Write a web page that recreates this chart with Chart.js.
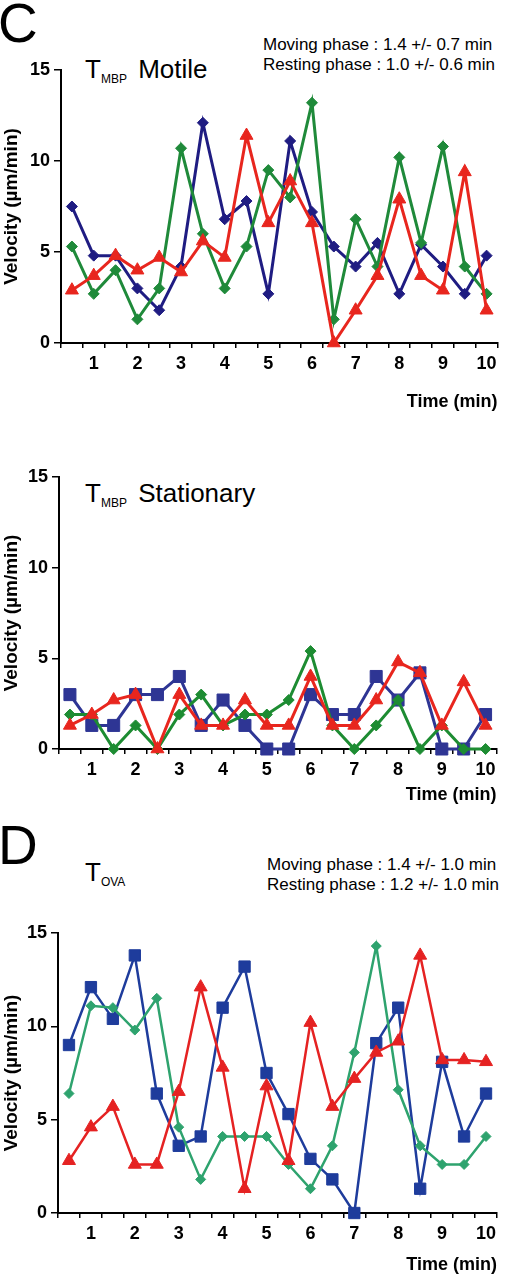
<!DOCTYPE html>
<html lang="en">
<head>
    <meta charset="UTF-8">
    <title>T cell velocity over time</title>
    <script src="https://cdn.jsdelivr.net/npm/chart.js"></script>
    <style>
        body {
            margin: 0;
            width: 506px;
            height: 1280px;
            overflow: hidden;
            background: white;
            font-family: "Liberation Sans", Arial, sans-serif;
            color: black;
            position: relative;
        }
        canvas { position: absolute; left: 0; }
        .panel { position: absolute; left: -2px; font-size: 55px; line-height: 55px; }
        .title { position: absolute; left: 85px; font-size: 26px; line-height: 26px; white-space: nowrap; }
        .title sub { font-size: 12px; vertical-align: -5px; margin-right: 4px; }
        .note { position: absolute; font-size: 17px; line-height: 20px; white-space: pre; }
    </style>
</head>
<body>
    <div class="panel" style="top:-4px">C</div>
    <div class="title" style="top:56px">T<sub>MBP</sub> Motile</div>
    <div class="note" style="left:263px; top:35px">Moving phase : 1.4 +/- 0.7 min
Resting phase : 1.0 +/- 0.6 min</div>

    <div class="title" style="top:480px">T<sub>MBP</sub> Stationary</div>

    <div class="panel" style="top:818px">D</div>
    <div class="title" style="top:859px">T<sub>OVA</sub></div>
    <div class="note" style="left:267px; top:855px">Moving phase : 1.4 +/- 1.0 min
Resting phase : 1.2 +/- 1.0 min</div>

    <canvas id="motileChart" width="506" height="413" style="top:0px"></canvas>
    <canvas id="stationaryChart" width="506" height="393" style="top:413px"></canvas>
    <canvas id="ovaChart" width="506" height="470" style="top:806px"></canvas>

    <script>
        // time points (min), one every 30 s
        const times = [0.5, 1, 1.5, 2, 2.5, 3, 3.5, 4, 4.5, 5, 5.5, 6, 6.5, 7, 7.5, 8, 8.5, 9, 9.5, 10];
        const yTicks = [0, 5, 10, 15];

        // T MBP motile cells
        const motileNavy = [7.5, 4.8, 4.8, 3.0, 1.8, 4.2, 12.1, 6.8, 7.8, 2.7, 11.1, 7.2, 5.3, 4.2, 5.5, 2.7, 5.4, 4.2, 2.7, 4.8];
        const motileGreen = [5.3, 2.7, 4.0, 1.3, 3.0, 10.7, 6.0, 3.0, 5.3, 9.5, 8.0, 13.2, 1.3, 6.8, 4.2, 10.2, 5.5, 10.8, 4.2, 2.7];
        const motileRed = [2.9, 3.7, 4.8, 4.0, 4.7, 3.9, 5.6, 4.7, 11.4, 6.6, 8.9, 6.6, 0, 1.8, 3.7, 7.9, 3.7, 2.9, 9.4, 1.8];

        // T MBP stationary cells
        const statBlue = [3.0, 1.3, 1.3, 3.0, 3.0, 4.0, 1.3, 2.7, 1.3, 0, 0, 3.0, 1.9, 1.9, 4.0, 2.7, 4.2, 0, 0, 1.9];
        const statRed = [1.3, 1.9, 2.7, 3.0, 0, 3.0, 1.3, 1.3, 2.7, 1.3, 1.3, 4.0, 1.3, 1.3, 2.7, 4.8, 4.2, 1.3, 3.7, 1.3];
        const statGreen = [1.9, 1.9, 0, 1.3, 0, 1.9, 3.0, 1.3, 1.9, 1.9, 2.7, 5.4, 1.3, 0, 1.3, 2.7, 0, 1.3, 0, 0];

        // T OVA cells
        const ovaBlue = [9.0, 12.1, 10.4, 13.8, 6.4, 3.6, 4.1, 11.0, 13.2, 7.5, 5.3, 2.9, 1.8, 0, 9.1, 11.0, 1.3, 8.1, 4.1, 6.4];
        const ovaGreen = [6.4, 11.1, 11.0, 9.8, 11.5, 4.6, 1.8, 4.1, 4.1, 4.1, 2.6, 1.3, 3.6, 8.6, 14.3, 6.6, 3.6, 2.6, 2.6, 4.1];
        const ovaRed = [2.8, 4.6, 5.7, 2.6, 2.6, 6.5, 12.1, 7.8, 1.3, 6.8, 2.8, 10.2, 5.7, 7.2, 8.6, 9.2, 13.8, 8.2, 8.2, 8.1];

        Chart.defaults.font.family = '"Liberation Sans", Arial, sans-serif';
        Chart.defaults.color = '#000';

        function series(data, color, shape, radius, width) {
            return {
                data: data,
                borderColor: color,
                backgroundColor: color,
                borderWidth: width,
                pointStyle: shape,
                pointRadius: radius,
                pointBorderWidth: 1,
                pointBackgroundColor: color,
                pointBorderColor: color,
                tension: 0,
                clip: false
            };
        }

        // area: chart-area left/right/top and height, canvas height
        function makeChart(id, datasets, area) {
            const canvas = document.getElementById(id);
            const xHeight = canvas.height - area.top - area.height;
            return new Chart(canvas, {
                type: 'line',
                data: { labels: times, datasets: datasets },
                options: {
                    responsive: false,
                    animation: false,
                    layout: { padding: { top: area.top, right: 506 - area.right, left: 0, bottom: 0 } },
                    plugins: { legend: { display: false }, tooltip: { enabled: false } },
                    scales: {
                        x: {
                            type: 'category',
                            offset: true,
                            grid: { drawOnChartArea: false, drawTicks: true, tickLength: 5, color: '#000', lineWidth: 1.5, offset: true },
                            border: { display: true, color: '#000', width: 2 },
                            ticks: {
                                autoSkip: false, maxRotation: 0, padding: 5,
                                font: { size: 18, weight: 'bold' },
                                callback: (v, i) => Number.isInteger(times[i]) ? String(times[i]) : ''
                            },
                            title: { display: true, text: 'Time (min)', align: 'end', font: { size: 18, weight: 'bold' }, padding: 0 },
                            afterFit: s => { s.height = xHeight; }
                        },
                        y: {
                            min: yTicks[0],
                            max: yTicks[yTicks.length - 1],
                            afterBuildTicks: s => { s.ticks = yTicks.map(v => ({ value: v })); },
                            ticks: { padding: 4, font: { size: 18, weight: 'bold' } },
                            grid: { drawOnChartArea: false, tickLength: 7, color: '#000', lineWidth: 1.5 },
                            border: { color: '#000', width: 2 },
                            title: { display: true, text: 'Velocity (µm/min)', font: { size: 19, weight: 'bold' }, padding: 0 },
                            afterFit: s => { s.width = area.left; }
                        }
                    }
                }
            });
        }

        makeChart('motileChart', [
            series(motileRed, '#e8261e', 'triangle', 7.5, 3),
            series(motileGreen, '#1f8a3a', 'rectRot', 5.5, 3),
            series(motileNavy, '#1f1c82', 'rectRot', 5.5, 3)
        ], { left: 61, right: 499, top: 70, height: 273 });

        makeChart('stationaryChart', [
            series(statRed, '#e8261e', 'triangle', 7.5, 3),
            series(statGreen, '#1d8c32', 'rectRot', 5.5, 3),
            series(statBlue, '#2e3594', 'rect', 8.5, 3)
        ], { left: 59, right: 500, top: 64, height: 272 });

        makeChart('ovaChart', [
            series(ovaRed, '#e52222', 'triangle', 7.5, 2.5),
            series(ovaGreen, '#2ea36e', 'rectRot', 5, 2.5),
            series(ovaBlue, '#1e3c9c', 'rect', 8, 2.5)
        ], { left: 58, right: 502, top: 127, height: 280 });
    </script>
</body>
</html>
